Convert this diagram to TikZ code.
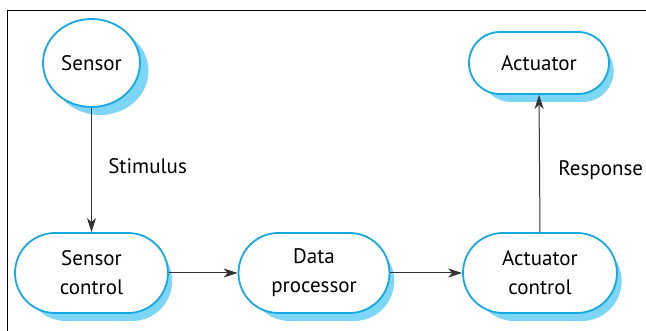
\documentclass[tikz,border=0pt]{standalone}
\usepackage{fontspec}
\setmainfont{PT Sans}
\usetikzlibrary{shapes.geometric,shapes.misc,arrows.meta}
\definecolor{edgeblue}{RGB}{20,168,228}
\definecolor{shadowblue}{RGB}{125,214,246}
\begin{document}
\begin{tikzpicture}[x=1pt,y=-1pt,
  base/.style={draw=edgeblue,line width=1.8pt,fill=white,font=\fontsize{21}{29}\selectfont,align=center,inner sep=0pt},
  stadium/.style={base,rounded rectangle,minimum width=#1,minimum height=80pt},
  shade/.style={fill=shadowblue,draw=none},
  conn/.style={-{Stealth[length=14pt,width=9pt,inset=4pt]},line width=1pt,draw=black!80},
  lbl/.style={font=\fontsize{21}{25}\selectfont,anchor=west}
]
\useasboundingbox (0,0) rectangle (646,331);
\draw[line width=1.2pt] (646,10.5) -- (7.5,10.5) -- (7.5,331);
% shadows
\fill[shadowblue] (100,71) ellipse [x radius=48.5pt, y radius=44pt];
\node[shade,rounded rectangle,minimum width=153pt,minimum height=80pt] at (99,281) {};
\node[shade,rounded rectangle,minimum width=151pt,minimum height=80pt] at (322,281) {};
\node[shade,rounded rectangle,minimum width=154pt,minimum height=80pt] at (548,281) {};
\node[shade,rounded rectangle,minimum width=140pt,minimum height=62pt] at (547,71) {};
% nodes
\node[base,ellipse,minimum width=97pt,minimum height=88pt] (sensor) at (91.5,63) {Sensor};
\node[stadium=153pt] (sc) at (91.5,273) {Sensor\\control};
\node[stadium=151pt] (dp) at (314,273) {Data\\processor};
\node[stadium=154pt] (ac) at (540,273) {Actuator\\control};
\node[base,rounded rectangle,minimum width=140pt,minimum height=62pt] (act) at (539,63) {Actuator};
% connectors
\draw[conn] (sensor.south) -- (sc.north) node[pos=0.47,xshift=13pt,lbl,text=black] {Stimulus};
\draw[conn] (ac.north) -- (act.south) node[pos=0.45,xshift=15pt,lbl,text=black] {Response};
\draw[conn] (sc.east) -- (dp.west);
\draw[conn] (dp.east) -- (ac.west);
\end{tikzpicture}
\end{document}
